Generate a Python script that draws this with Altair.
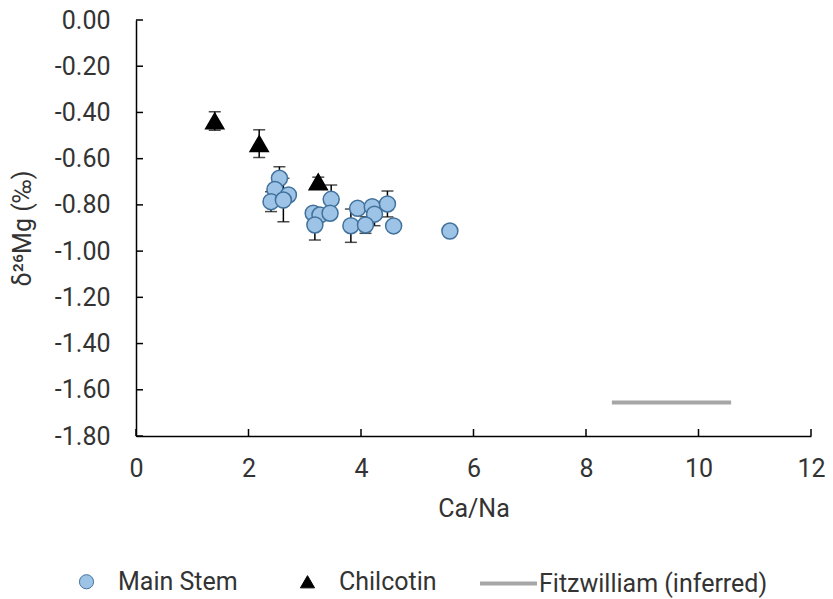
import altair as alt
import pandas as pd

# ---- data ----
point_series = ["Main Stem", "Chilcotin"]
line_series = ["Fitzwilliam (inferred)"]

main_x = [2.55, 2.47, 2.71, 2.40, 2.62, 3.47, 3.15, 3.27, 3.45, 3.18, 3.94, 4.20, 4.24, 3.82, 4.08, 4.47, 4.58, 5.58]
main_y = [-0.685, -0.733, -0.757, -0.786, -0.779, -0.776, -0.836, -0.844, -0.836, -0.887, -0.815, -0.808, -0.840, -0.890, -0.887, -0.796, -0.891, -0.913]
main_err = [0.05, 0.02, 0.02, 0.043, 0.094, 0.062, 0.02, 0.02, 0.02, 0.065, 0.02, 0.02, 0.05, 0.072, 0.036, 0.056, 0.02, 0.02]

chil_x = [1.40, 2.19, 3.24]
chil_y = [-0.437, -0.535, -0.700]
chil_err = [0.04, 0.06, 0.02]

fitz_x = [8.46]
fitz_x2 = [10.58]
fitz_y = [-1.655]

x_ticks = [0, 2, 4, 6, 8, 10, 12]
y_ticks = [0.0, -0.2, -0.4, -0.6, -0.8, -1.0, -1.2, -1.4, -1.6, -1.8]

# ---- tables ----
pts = pd.DataFrame({
    "x": main_x + chil_x,
    "y": main_y + chil_y,
    "err": main_err + chil_err,
    "series": ["Main Stem"] * len(main_x) + ["Chilcotin"] * len(chil_x),
    "order": [0] * len(main_x) + [1] * len(chil_x),
})
pts["lo"] = pts["y"] - pts["err"]
pts["hi"] = pts["y"] + pts["err"]

fitz = pd.DataFrame({"x": fitz_x, "x2": fitz_x2, "y": fitz_y, "series": line_series})
xt = pd.DataFrame({"v": x_ticks})
yt = pd.DataFrame({"v": y_ticks})

FONT = "Roboto"
TXT = "#333333"

xscale = alt.Scale(domain=[0, 12], nice=False, zero=False)
yscale = alt.Scale(domain=[-1.8, 0], nice=False, zero=False)

minus = "\u2212"

xaxis = alt.Axis(values=x_ticks, format="d", title="Ca/Na", grid=False, ticks=False,
                 labelPadding=20, labelFlush=False, titleY=72, titleBaseline="middle",
                 domainColor="black", domainWidth=1.5)
yaxis = alt.Axis(values=y_ticks, title="δ²⁶Mg (‰)", grid=False, ticks=False,
                 labelExpr=f"replace(format(datum.value, '.2f'), '{minus}', '-')",
                 labelPadding=26, labelFlush=False, titleX=-114, titleY=208, titleAngle=270,
                 titleBaseline="middle", titleAlign="center",
                 domainColor="black", domainWidth=1.5)

LEG_Y = 549


def pt_legend():
    return alt.Legend(title=None, orient="none", legendX=-62, legendY=LEG_Y,
                      direction="horizontal", symbolSize=200, symbolStrokeWidth=1,
                      labelOffset=19, columnPadding=57)


errbars = alt.Chart(pts).mark_errorbar(
    ticks={"size": 12, "thickness": 1.5, "color": "black"},
    rule={"strokeWidth": 1.5, "color": "black"},
).encode(
    x=alt.X("x:Q", scale=xscale, axis=xaxis),
    y=alt.Y("lo:Q", scale=yscale, axis=yaxis),
    y2="hi:Q",
)

points = alt.Chart(pts).mark_point(filled=True, opacity=1, strokeWidth=1.5).encode(
    x=alt.X("x:Q", scale=xscale, axis=xaxis),
    y=alt.Y("y:Q", scale=yscale, axis=yaxis),
    color=alt.Color("series:N", scale=alt.Scale(domain=point_series, range=["#9DC3E6", "#000000"]),
                    legend=pt_legend()),
    shape=alt.Shape("series:N", scale=alt.Scale(domain=point_series, range=["circle", "triangle-up"]),
                    legend=pt_legend()),
    stroke=alt.Stroke("series:N", scale=alt.Scale(domain=point_series, range=["#41719C", "#000000"]),
                      legend=pt_legend()),
    size=alt.condition(alt.datum.series == "Main Stem", alt.value(256), alt.value(330)),
    order=alt.Order("order:Q"),
)

fitz_line = alt.Chart(fitz).mark_rule(strokeWidth=4).encode(
    x=alt.X("x:Q", scale=xscale, axis=xaxis),
    x2="x2:Q",
    y=alt.Y("y:Q", scale=yscale, axis=yaxis),
    color=alt.Color("series:N", scale=alt.Scale(domain=line_series, range=["#A6A6A6"]),
                    legend=alt.Legend(title=None, orient="none", legendX=342, legendY=LEG_Y - 16,
                                      symbolType="stroke", symbolStrokeWidth=4,
                                      symbolSize=3249, labelOffset=0)),
)

ytick_marks = alt.Chart(yt).mark_rule(color="black", strokeWidth=1.5).encode(
    y=alt.Y("v:Q", scale=yscale, axis=yaxis),
    x=alt.value(0),
    x2=alt.value(7),
)
xtick_marks = alt.Chart(xt).mark_rule(color="black", strokeWidth=1.5).encode(
    x=alt.X("v:Q", scale=xscale, axis=xaxis),
    y=alt.value(416),
    y2=alt.value(409),
)

chart = alt.layer(ytick_marks, xtick_marks, fitz_line, errbars, points).resolve_scale(
    color="independent", shape="independent", stroke="independent"
).properties(
    width=675,
    height=416,
    background="white",
    autosize=alt.AutoSizeParams(type="none"),
    padding={"left": 136, "top": 20, "right": 22, "bottom": 163},
).configure_view(
    stroke=None
).configure_axis(
    labelFont=FONT, labelFontSize=25, labelColor=TXT,
    titleFont=FONT, titleFontSize=25, titleColor=TXT, titleFontWeight="normal",
).configure_legend(
    labelFont=FONT, labelFontSize=25, labelColor=TXT, labelLimit=400, padding=0,
)

chart.save("out.html", embed_options={"renderer": "svg", "actions": False})
